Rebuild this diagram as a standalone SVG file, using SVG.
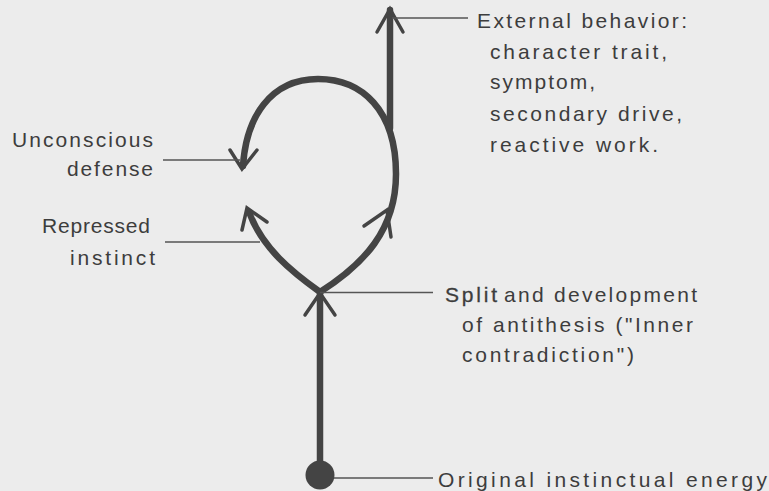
<svg xmlns="http://www.w3.org/2000/svg" width="769" height="491" viewBox="0 0 769 491">
  <style>
    .lbl { font-family: "Liberation Sans", Arial, sans-serif; font-size: 21px; fill: #3d3d3d; }
    .heavy { fill: none; stroke: #444; stroke-width: 6.5; stroke-linecap: round; }
    .head { fill: none; stroke: #444; stroke-width: 3.5; stroke-linecap: round; stroke-linejoin: miter; }
    .lead { fill: none; stroke: #555; stroke-width: 1.6; }
  </style>
  <rect x="0" y="0" width="769" height="491" fill="#ececec"/>

  <g id="connectors">
    <!-- main trunk -->
    <path class="heavy" d="M320 475 L320 294"/>
    <!-- left branch (repressed instinct) -->
    <path class="heavy" d="M320 292 C292 272 262 248 249 212"/>
    <!-- right branch and loop (unconscious defense) -->
    <path class="heavy" d="M320 292 C364 264 396 230 396 174 C396 110 362 79 318 79 C270 79 246 118 243 166"/>
    <!-- external behavior -->
    <path class="heavy" d="M390 128 L390 10"/>
    <!-- arrowheads -->
    <path class="head" d="M305 315 L320 293 L335 315"/>
    <path class="head" d="M242 230 L247 208 L267 222"/>
    <path class="head" d="M364 226 L387 210 L391 237"/>
    <path class="head" d="M230 150 L242 169 L257 150"/>
    <path class="head" d="M377 32 L390 9 L403 32"/>
    <!-- leader lines -->
    <path class="lead" d="M392 18 L468 18"/>
    <path class="lead" d="M163 160 L240 160"/>
    <path class="lead" d="M165 242 L260 242"/>
    <path class="lead" d="M320 292.5 L433 292.5"/>
    <path class="lead" d="M330 478 L433 478"/>
  </g>

  <g id="origin">
    <circle cx="320" cy="475" r="14.5" fill="#444"/>
    <text class="lbl" x="438" y="487" textLength="329" lengthAdjust="spacing">Original instinctual energy</text>
  </g>

  <g id="split">
    <text class="lbl" x="445" y="302" textLength="52" lengthAdjust="spacing" style="stroke:#3d3d3d;stroke-width:0.3">Split</text>
    <text class="lbl" x="504" y="302" textLength="193" lengthAdjust="spacing">and development</text>
    <text class="lbl" x="462" y="332" textLength="231" lengthAdjust="spacing">of antithesis ("Inner</text>
    <text class="lbl" x="462" y="362" textLength="172" lengthAdjust="spacing">contradiction")</text>
  </g>

  <g id="repressed">
    <text class="lbl" x="42" y="233" textLength="108" lengthAdjust="spacing">Repressed</text>
    <text class="lbl" x="70" y="265" textLength="85" lengthAdjust="spacing">instinct</text>
  </g>

  <g id="defense">
    <text class="lbl" x="12" y="147" textLength="141" lengthAdjust="spacing">Unconscious</text>
    <text class="lbl" x="67" y="176" textLength="86" lengthAdjust="spacing">defense</text>
  </g>

  <g id="external">
    <text class="lbl" x="477" y="28" textLength="210" lengthAdjust="spacing">External behavior:</text>
    <text class="lbl" x="490" y="59" textLength="177" lengthAdjust="spacing">character trait,</text>
    <text class="lbl" x="490" y="89" textLength="105" lengthAdjust="spacing">symptom,</text>
    <text class="lbl" x="490" y="121" textLength="192" lengthAdjust="spacing">secondary drive,</text>
    <text class="lbl" x="490" y="152" textLength="168" lengthAdjust="spacing">reactive work.</text>
  </g>
</svg>
